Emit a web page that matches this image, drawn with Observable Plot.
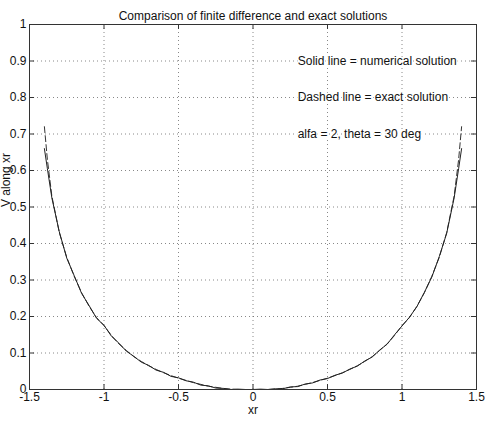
<!DOCTYPE html>
<html>
<head>
<meta charset="utf-8">
<script src="https://cdn.jsdelivr.net/npm/d3@7"></script>
<script src="https://cdn.jsdelivr.net/npm/@observablehq/plot@0.6"></script>
<style>
  html, body { margin: 0; padding: 0; background: #fff; }
  #chart svg { display: block; }
</style>
</head>
<body>
<div id="chart"></div>
<script>
const titleText = "Comparison of finite difference and exact solutions";
const xLabel = "xr";
const yLabel = "V along xr";

const xr = [-1.4,-1.38,-1.35,-1.3,-1.25,-1.2,-1.15,-1.1,-1.05,-1,-0.95,-0.9,-0.85,-0.8,-0.75,-0.7,-0.65,-0.6,-0.55,-0.5,-0.45,-0.4,-0.35,-0.3,-0.25,-0.2,-0.15,-0.1,-0.05,0,
  0.05,0.1,0.15,0.2,0.25,0.3,0.35,0.4,0.45,0.5,0.55,0.6,0.65,0.7,0.75,0.8,0.85,0.9,0.95,1,1.05,1.1,1.15,1.2,1.25,1.3,1.35,1.38,1.4];

const exactV = [0.72,0.63,0.53,0.43,0.362,0.31,0.265,0.228,0.197,0.175,0.148,0.125,0.107,0.09,0.077,0.065,0.055,0.046,0.038,0.031,0.025,0.019,0.014,0.009,0.006,0.003,0.001,0,0,0,
  0,0,0.001,0.003,0.006,0.009,0.014,0.019,0.025,0.031,0.038,0.046,0.055,0.065,0.077,0.09,0.107,0.125,0.148,0.175,0.197,0.228,0.265,0.31,0.362,0.43,0.53,0.63,0.72];

const numericalV = [0.66,0.605,0.525,0.432,0.36,0.312,0.263,0.23,0.195,0.176,0.146,0.127,0.105,0.091,0.075,0.066,0.053,0.047,0.036,0.032,0.024,0.02,0.012,0.01,0.004,0.003,0,0.001,0,0,
  0.001,0,0.002,0.002,0.007,0.008,0.015,0.018,0.026,0.03,0.039,0.045,0.056,0.064,0.078,0.089,0.108,0.124,0.15,0.174,0.198,0.227,0.266,0.308,0.364,0.428,0.525,0.605,0.66];

const xTicks = [-1.5,-1,-0.5,0,0.5,1,1.5];
const yTicks = [0,0.1,0.2,0.3,0.4,0.5,0.6,0.7,0.8,0.9,1];
const xGrid = [-1,-0.5,0,0.5,1];
const yGrid = [0.1,0.2,0.3,0.4,0.5,0.6,0.7,0.8,0.9];

const notes = ["Solid line = numerical solution", "Dashed line = exact solution", "alfa = 2, theta = 30 deg"];
const noteY = [0.9, 0.8, 0.7];

const rows = xr.map((x, i) => ({x, exact: exactV[i], num: numericalV[i]}));
const noteRows = notes.map((t, i) => ({t, y: noteY[i]}));

const fmt = d => String(d);
const tickLenX = 0.034, tickLenY = 0.0135;

const chart = Plot.plot({
  width: 486,
  height: 424,
  marginLeft: 29,
  marginRight: 10,
  marginTop: 24,
  marginBottom: 35,
  style: {fontFamily: "'Liberation Sans', Arial, Helvetica, sans-serif", fontSize: "12px", color: "#111", background: "#fff"},
  x: {domain: [-1.5, 1.5]},
  y: {domain: [0, 1]},
  marks: [
    Plot.gridX(xGrid, {stroke: "#555", strokeOpacity: 0.7, strokeDasharray: "1,3"}),
    Plot.gridY(yGrid, {stroke: "#555", strokeOpacity: 0.7, strokeDasharray: "1,3"}),
    Plot.axisX(xTicks, {tickSize: 0, tickPadding: 3, tickFormat: fmt, label: null, fontSize: 12}),
    Plot.axisY(yTicks, {tickSize: 0, tickPadding: 3, tickFormat: fmt, label: null, fontSize: 12}),
    Plot.ruleX(xTicks, {y1: 0, y2: tickLenY, stroke: "#333"}),
    Plot.ruleX(xTicks, {y1: 1, y2: 1 - tickLenY, stroke: "#333"}),
    Plot.ruleY(yTicks, {x1: -1.5, x2: -1.5 + tickLenX, stroke: "#333"}),
    Plot.ruleY(yTicks, {x1: 1.5, x2: 1.5 - tickLenX, stroke: "#333"}),
    Plot.text(noteRows, {x: 0.3, y: "y", text: "t", textAnchor: "start", fontSize: 12, fill: "#111", stroke: "white", strokeWidth: 3, paintOrder: "stroke"}),
    Plot.line(rows, {x: "x", y: "exact", stroke: "#333", strokeWidth: 1, strokeDasharray: "6,3"}),
    Plot.line(rows, {x: "x", y: "num", stroke: "#222", strokeWidth: 1}),
    Plot.frame({stroke: "#333"}),
    Plot.text([titleText], {frameAnchor: "top", dy: -13, fontSize: 12, fill: "#111"}),
    Plot.text([xLabel], {frameAnchor: "bottom", dy: 24, fontSize: 12, fill: "#111"}),
    Plot.text([yLabel], {frameAnchor: "left", dx: -23, rotate: -90, fontSize: 12, fill: "#111"})
  ]
});
document.getElementById("chart").appendChild(chart);
</script>
</body>
</html>
